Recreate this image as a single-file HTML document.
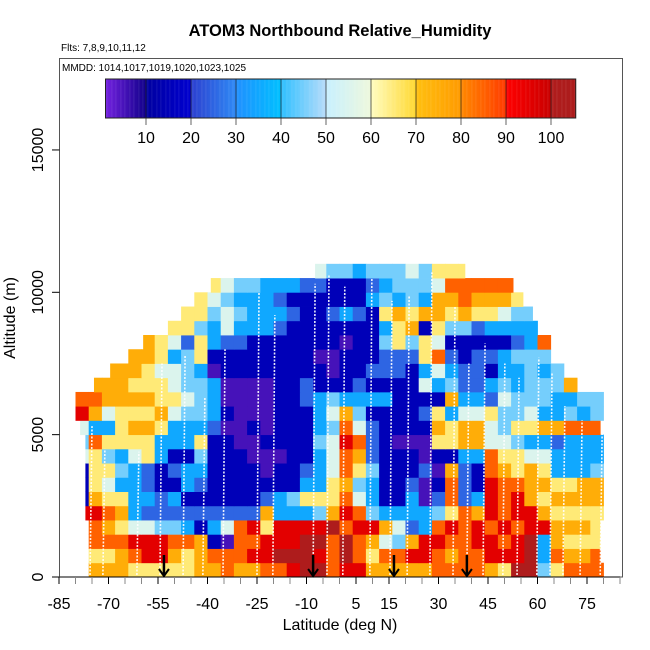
<!DOCTYPE html>
<html><head><meta charset="utf-8"><style>
html,body{margin:0;padding:0;background:#fff;}
svg{display:block;font-family:"Liberation Sans",sans-serif;}
</style></head><body>
<svg id="chart" width="650" height="650" viewBox="0 0 650 650">
<text x="340" y="36" text-anchor="middle" font-size="16.5" font-weight="bold">ATOM3 Northbound Relative_Humidity</text>
<text x="61" y="51" font-size="10">Flts: 7,8,9,10,11,12</text>
<rect x="59.5" y="58.5" width="563" height="518.5" fill="none" stroke="#555" stroke-width="1"/>
<text x="62" y="71" font-size="10">MMDD: 1014,1017,1019,1020,1023,1025</text>
<g id="cells"></g>
<g id="tracks"></g>
<g id="arrows"></g>
<g id="cbar"></g>
<g id="xaxis"></g>
<g id="yaxis"></g>
<text x="340" y="630" text-anchor="middle" font-size="16">Latitude (deg N)</text>
<text x="15" y="318" text-anchor="middle" font-size="16" transform="rotate(-90 15 318)">Altitude (m)</text>
</svg>
<script>
// ---- data ----
const latStart = -80;           // first latitude bin edge
const latStep = 4;              // bin width (deg)
const altStep = 500;            // bin height (m)
// RH codes per altitude row (bottom first): '0'=5, d=d*10+5, 'X'=103, '.'=no data
const rows = [
"87776666677877889XX89977777888876XX46888",
"766789976788899XXX98X8688998788999X38778",
"88889998871088999XX8X8754799889989X37666",
"8876554431358969999X89975238989898997776",
"9987322222222273334798433334687989976666",
"1766332311111123466685311302823989767777",
"1653321132111111133674311201821988776677",
"1664321233111101123586411120721876763334",
"5643563114111000113587211101133866553333",
"4866663336110011114598210006677554332333",
"5336776333200101113485211117677546677888",
"9756667544310001113574111126355644533434",
"8877776654300001123433331111733254443344",
".7776665443000011211121111534223434447..",
"..77765543011111111011222135322133434...",
"....77634611111111001112226821223444....",
".....7652632211111110114646511111238....",
".......6643533321111111367164423333.....",
"........664543332112321676776766544.....",
".........6543332111111343437787776......",
"..........654433322111234445888888......",
"..................544344454666.........."
];
const rowStart = [-76,-76,-76,-76,-77,-77,-77,-77,-77,-77,-78.6,-80,-80,-74.4,-69.5,-64.4,-59.5,-54,-49,-44,-39,-7.4];
const rowEnd = [80,79,79,79,80,80,80,80,80,80,79,80,80,76.5,73.5,70,67,63,58.5,55.6,52.6,38];
const trackLat = [-75.6,-71.7,-61.4,-54.4,-47.4,-41.4,-35.3,-25,-20.2,-8,-3.8,1,9.2,15.3,20.5,27.4,34.4,38.6,43.5,49.5,53.8,59.8,63.8,67.7,72.9,79];
const trackTop = [5300,4500,4400,7500,7800,6300,8000,10000,9200,10300,10600,10200,10500,9700,9900,10700,9500,7500,8200,7500,7000,7700,7200,6000,5500,5200];
const arrowLat = [-53.2,-8,16.5,38.6];
const xTicks = [-85,-80,-75,-70,-65,-60,-55,-50,-45,-40,-35,-30,-25,-20,-15,-10,-5,0,5,10,15,20,25,30,35,40,45,50,55,60,65,70,75,80,85];
const xLabels = [-85,-70,-55,-40,-25,-10,5,15,30,45,60,75];
const yTicks = [0,5000,10000,15000];
const cbTicks = [10,20,30,40,50,60,70,80,90,100];

// ---- scales ----
const X = lat => 59 + (lat + 85) * 3.3;
const Y = alt => 577 - alt * 0.02847;
const CB = v => 146 + (v - 10) * 4.5;
const stops = [[0,'#7d24e8'],[9.9,'#10008a'],[10,'#0000a0'],[19.9,'#0000d0'],[20,'#2c40d0'],[29.9,'#2f8af5'],[30,'#2090ff'],[39.9,'#00c0ff'],[40,'#30c0ff'],[49.9,'#b8dcfa'],[50,'#c8f0ff'],[59.9,'#eef8dc'],[60,'#fffcc0'],[69.9,'#ffd830'],[70,'#ffc010'],[79.9,'#ff9a00'],[80,'#ff8800'],[89.9,'#ff3a00'],[90,'#ff0000'],[99.9,'#c80000'],[100,'#b01c1c'],[110,'#a81c1c']];
function hex(h){return [1,3,5].map(i=>parseInt(h.substr(i,2),16));}
function color(v){
  for(let i=0;i<stops.length-1;i++){
    const [a,ca]=stops[i],[b,cb]=stops[i+1];
    if(v>=a&&v<=b){const t=(v-a)/(b-a||1);const A=hex(ca),B=hex(cb);
      return 'rgb('+A.map((c,k)=>Math.round(c+(B[k]-c)*t)).join(',')+')';}
  }
  return stops[stops.length-1][1];
}
const NS='http://www.w3.org/2000/svg';
function mk(tag,attrs,parent){const e=document.createElementNS(NS,tag);for(const k in attrs)e.setAttribute(k,attrs[k]);parent.appendChild(e);return e;}
function code(c){return c==='X'?103:(+c)*10+5;}

// heatmap
const cg=document.getElementById('cells');
rows.forEach((row,r)=>{
  for(let i=0;i<row.length;i++){
    const ch=row[i]; if(ch==='.') continue;
    let a=latStart+i*latStep,b=a+latStep;
    a=Math.max(a,rowStart[r]); b=Math.min(b,rowEnd[r]); if(b<=a) continue;
    const x0=X(a),x1=X(b),y0=Y((r+1)*altStep),y1=Y(r*altStep);
    const el=mk('rect',{x:x0.toFixed(2),y:y0.toFixed(2),width:(x1-x0+0.4).toFixed(2),height:(y1-y0+0.4).toFixed(2),fill:color(code(ch))},cg);
    
    
  }
});
// tracks
const tg=document.getElementById('tracks');
trackLat.forEach((lat,i)=>{
  const el=mk('line',{x1:X(lat),y1:Y(0)-2,x2:X(lat)+2,y2:Y(trackTop[i]),stroke:'#fff','stroke-width':1.6,'stroke-dasharray':'2 1.5',opacity:0.9},tg);
  
  
});
// arrows
const ag=document.getElementById('arrows');
arrowLat.forEach(lat=>{
  const x=X(lat);
  const g=mk('g',{},ag);
  
  
  mk('line',{x1:x,y1:555,x2:x,y2:576,stroke:'#000','stroke-width':2.5},g);
  mk('polyline',{points:`${x-5},569 ${x},576 ${x+5},569`,fill:'none',stroke:'#000','stroke-width':2},g);
});
// colorbar
const cbg=document.getElementById('cbar');
for(let v=1;v<105.5;v+=0.25){
  mk('rect',{x:CB(v).toFixed(2),y:79,width:1.3,height:39,fill:color(v)},cbg);
}
cbTicks.forEach(v=>{
  mk('line',{x1:CB(v),y1:79,x2:CB(v),y2:125,stroke:'#222','stroke-width':0.7},cbg);
  const t=mk('text',{x:CB(v),y:143,'text-anchor':'middle','font-size':16},cbg);
  t.textContent=v;
  
  
});
mk('rect',{x:CB(1),y:79,width:CB(105.5)-CB(1),height:39,fill:'none',stroke:'#222','stroke-width':1},cbg);
// x axis
const xg=document.getElementById('xaxis');
mk('line',{x1:X(-85),y1:577,x2:X(85),y2:577,stroke:'#000','stroke-width':1},xg);
xTicks.forEach(v=>{
  const major=xLabels.indexOf(v)>=0;
  mk('line',{x1:X(v),y1:577,x2:X(v),y2:584,stroke:major?'#000':'#888','stroke-width':1},xg);
});
xLabels.forEach(v=>{
  const t=mk('text',{x:X(v),y:609,'text-anchor':'middle','font-size':16},xg);
  t.textContent=v;
  
  
});
// y axis
const yg=document.getElementById('yaxis');
mk('line',{x1:59.5,y1:Y(0),x2:59.5,y2:Y(15000),stroke:'#555','stroke-width':1},yg);
yTicks.forEach(v=>{
  mk('line',{x1:52,y1:Y(v),x2:59.5,y2:Y(v),stroke:'#000','stroke-width':1},yg);
  const t=mk('text',{x:43,y:Y(v),'text-anchor':'middle','font-size':16,transform:`rotate(-90 43 ${Y(v)})`},yg);
  t.textContent=v;
  
  
});
</script>
</body></html>
